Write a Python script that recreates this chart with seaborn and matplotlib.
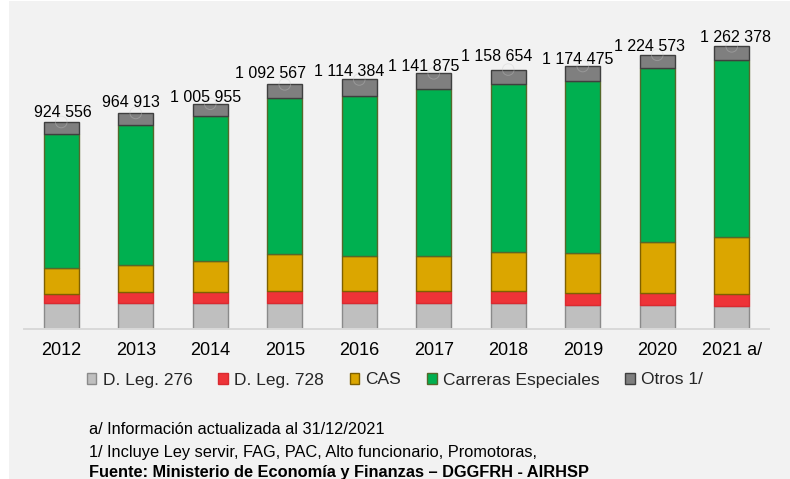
import numpy as np
import matplotlib
matplotlib.use("Agg")
import matplotlib.pyplot as plt
from matplotlib.patches import Patch, Rectangle
import seaborn as sns

# Personal por régimen laboral, 2012-2021
years = ["2012", "2013", "2014", "2015", "2016", "2017", "2018", "2019", "2020", "2021 a/"]
totals = [924556, 964913, 1005955, 1092567, 1114384, 1141875, 1158654, 1174475, 1224573, 1262378]
dleg276 = [116000, 115000, 115000, 115000, 115000, 115000, 115000, 108000, 106000, 101000]
dleg728 = [40000, 49000, 49000, 53000, 53000, 55000, 55000, 52000, 55000, 55000]
cas = [116000, 122000, 141000, 166000, 157000, 156000, 172000, 181000, 227000, 256000]
carreras = [599556, 626913, 645955, 696567, 716384, 745875, 751654, 766475, 776573, 788378]
otros = [53000, 52000, 55000, 62000, 73000, 70000, 65000, 67000, 60000, 62000]

series_names = ["D. Leg. 276", "D. Leg. 728", "CAS", "Carreras Especiales", "Otros 1/"]
series_values = [dleg276, dleg728, cas, carreras, otros]
face_colors = ["#bfbfbf", "#ee3338", "#dba600", "#00b050", "#7f7f7f"]
edge_colors = ["#8a8a8a", "#d92a30", "#7f6000", "#55682a", "#3f3f3f"]

# small hand placement of the total labels (pixels: dx, height of text centre above bar)
label_dx = [2, -5, -5, -14, -10, -10, -12, -5, -8, 4]
label_dy = [11, 11.6, 7.6, 12.3, 9.3, 8, 14, 7.6, 9.6, 10]

W, H, DPI = 790, 479, 100
sns.set_style("white")
plt.rcParams["font.family"] = ["Liberation Sans", "DejaVu Sans"]

fig = plt.figure(figsize=(W / DPI, H / DPI), dpi=DPI, facecolor="white")
fig.patches.append(Rectangle((9 / W, 0), 1 - 9 / W, 1 - 1 / H, transform=fig.transFigure,
                             facecolor="#f2f2f2", edgecolor="none", zorder=-10))

ax_left, ax_right = 24 / W, 769 / W
ax_bottom_px, ax_top_px = 329, 15.5
ax = fig.add_axes([ax_left, 1 - ax_bottom_px / H, ax_right - ax_left, (ax_bottom_px - ax_top_px) / H])
ax.set_facecolor("none")

bottom = np.zeros(len(years))
for name, vals, fc, ec in zip(series_names, series_values, face_colors, edge_colors):
    vals = np.asarray(vals, dtype=float)
    sns.barplot(x=years, y=vals, order=years, bottom=bottom, color=fc, saturation=1,
                edgecolor=ec, linewidth=1.0, width=0.47, errorbar=None, ax=ax, zorder=2)
    bottom = bottom + vals

# faint markers sitting on the top of each stack
ax.scatter(np.arange(len(years)), totals, s=70, facecolors="none", edgecolors="#c8c8c8",
           linewidths=0.7, zorder=3, alpha=0.35)

def fmt(v):
    return f"{v:,}".replace(",", " ")

for i, t in enumerate(totals):
    ax.annotate(fmt(t), xy=(i, t), xytext=(label_dx[i] * 0.72, (label_dy[i] - 5.75) * 0.72),
                textcoords="offset points", ha="center", va="baseline",
                fontsize=11.5, color="black", zorder=4)

ax.set_xlim(-0.5, len(years) - 0.5)
ax.set_ylim(0, 1400000)
ax.set_yticks([])
ax.set_xlabel("")
ax.set_ylabel("")
for side in ["top", "right", "left"]:
    ax.spines[side].set_visible(False)
ax.spines["bottom"].set_color("#d9d9d9")
ax.spines["bottom"].set_linewidth(1.4)
ax.tick_params(axis="x", length=0, pad=9.5, labelsize=13, labelcolor="black")

handles = [Patch(facecolor=fc, edgecolor=ec, linewidth=1.0, label=n)
           for n, fc, ec in zip(series_names, face_colors, edge_colors)]
fig.legend(handles=handles, loc="center", bbox_to_anchor=(0.5, 1 - 380 / H), ncol=5,
           frameon=False, fontsize=12.5, handlelength=0.55, handleheight=0.55,
           handletextpad=0.35, columnspacing=1.5, borderaxespad=0)

x_note = 89 / W
fig.text(x_note, 1 - 434.3 / H, "a/ Información actualizada al 31/12/2021",
         fontsize=11.8, va="baseline", color="black")
fig.text(x_note, 1 - 456.7 / H, "1/ Incluye Ley servir, FAG, PAC, Alto funcionario, Promotoras,",
         fontsize=11.8, va="baseline", color="black")
fig.text(x_note, 1 - 476.5 / H, "Fuente: Ministerio de Economía y Finanzas – DGGFRH - AIRHSP",
         fontsize=11.8, va="baseline", color="black", fontweight="bold")

fig.savefig("out.png", dpi=DPI)
